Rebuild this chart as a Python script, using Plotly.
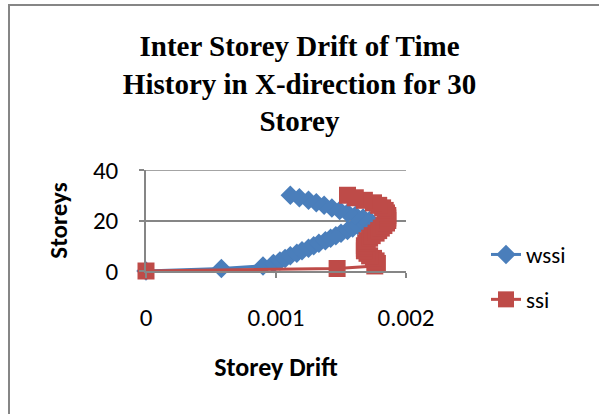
import plotly.graph_objects as go

storeys = list(range(0, 31))
wssi = [0, 0.00058, 0.0009, 0.00098, 0.00103, 0.00107, 0.00111, 0.00116, 0.0012, 0.00125,
        0.00129, 0.00133, 0.00138, 0.00142, 0.00146, 0.0015, 0.00155, 0.00159, 0.00163, 0.00168,
        0.00172, 0.00167, 0.00161, 0.00155, 0.00149, 0.00143, 0.00137, 0.00131, 0.00125, 0.00118,
        0.00111]
ssi = [0, 0.00147, 0.00176, 0.00178, 0.00177, 0.00175, 0.00172, 0.0017, 0.00168, 0.00168,
       0.00168, 0.00169, 0.0017, 0.00172, 0.00174, 0.00177, 0.00179, 0.00181, 0.00183, 0.00185,
       0.00186, 0.00186, 0.00186, 0.00185, 0.00184, 0.00182, 0.00179, 0.00175, 0.00168, 0.00161,
       0.00155]

x_ticks = [0, 0.001, 0.002]
x_tick_text = ["0", "0.001", "0.002"]
y_ticks = [0, 20, 40]

title_text = "Inter Storey Drift of Time<br>History in X-direction for 30<br>Storey"

BLUE = "#4a7ebb"
RED = "#be4b48"
GRAY = "#868686"
SANS = "Carlito, Lato, 'Open Sans', sans-serif"

fig = go.Figure()
fig.add_trace(go.Scatter(x=wssi, y=storeys, mode="lines+markers", name="wssi",
                         legendgroup="a", cliponaxis=False,
                         line=dict(color=BLUE, width=3),
                         marker=dict(symbol="diamond", size=15, color=BLUE)))
fig.add_trace(go.Scatter(x=ssi, y=storeys, mode="lines+markers", name="ssi",
                         legendgroup="b", cliponaxis=False,
                         line=dict(color=RED, width=3),
                         marker=dict(symbol="square", size=17, color=RED)))

W, H = 599, 414
L, R, T, B = 146, 193, 170, 143
pw, ph = W - L - R, H - T - B

def px_x(p):
    return (p - L) / pw

def px_y(p):
    return (H - B - p) / ph

# outer chart border
fig.add_shape(type="rect", xref="paper", yref="paper",
              x0=px_x(9), x1=px_x(700), y0=px_y(600), y1=px_y(5),
              line=dict(color=GRAY, width=2), fillcolor="rgba(0,0,0,0)", layer="below")
# top gridline at the max tick
fig.add_shape(type="line", xref="paper", yref="y", x0=0, x1=1,
              y0=y_ticks[-1], y1=y_ticks[-1], line=dict(color=GRAY, width=1.5), layer="below")

fig.update_layout(
    width=W, height=H,
    margin=dict(l=L, r=R, t=T, b=B, autoexpand=False),
    paper_bgcolor="white", plot_bgcolor="white",
    title=dict(text=title_text, x=0.5, xref="container", xanchor="center",
               y=1 - 56 / H, yref="container", yanchor="top",
               font=dict(family="'Liberation Serif', 'Times New Roman', serif",
                         size=29, color="black", weight="bold")),
    font=dict(family=SANS, color="black"),
    showlegend=True,
    legend=dict(x=px_x(486), y=px_y(233), xanchor="left", yanchor="top",
                font=dict(size=23, family=SANS), tracegroupgap=12,
                bgcolor="rgba(0,0,0,0)"),
    xaxis=dict(range=[0, 0.002], tickvals=x_ticks, ticktext=x_tick_text,
               showgrid=False, zeroline=False, showline=True, linecolor=GRAY, linewidth=1.5,
               ticks="outside", ticklen=5, tickcolor=GRAY, tickwidth=1.5,
               tickfont=dict(size=25, family=SANS), ticklabelstandoff=18,
               title=dict(text="Storey Drift", standoff=26,
                          font=dict(size=26, family=SANS, weight="bold"))),
    yaxis=dict(range=[0, 40], tickvals=y_ticks,
               showgrid=True, gridcolor=GRAY, gridwidth=1.5, zeroline=False,
               showline=True, linecolor=GRAY, linewidth=1.5,
               ticks="outside", ticklen=5, tickcolor=GRAY, tickwidth=1.5,
               tickfont=dict(size=25, family=SANS), ticklabelstandoff=16,
               title=dict(text="Storeys", standoff=18,
                          font=dict(size=25, family=SANS, weight="bold"))),
)

fig.write_html("out.html", config={"displayModeBar": False},
               post_script="document.body.style.margin='0';")
